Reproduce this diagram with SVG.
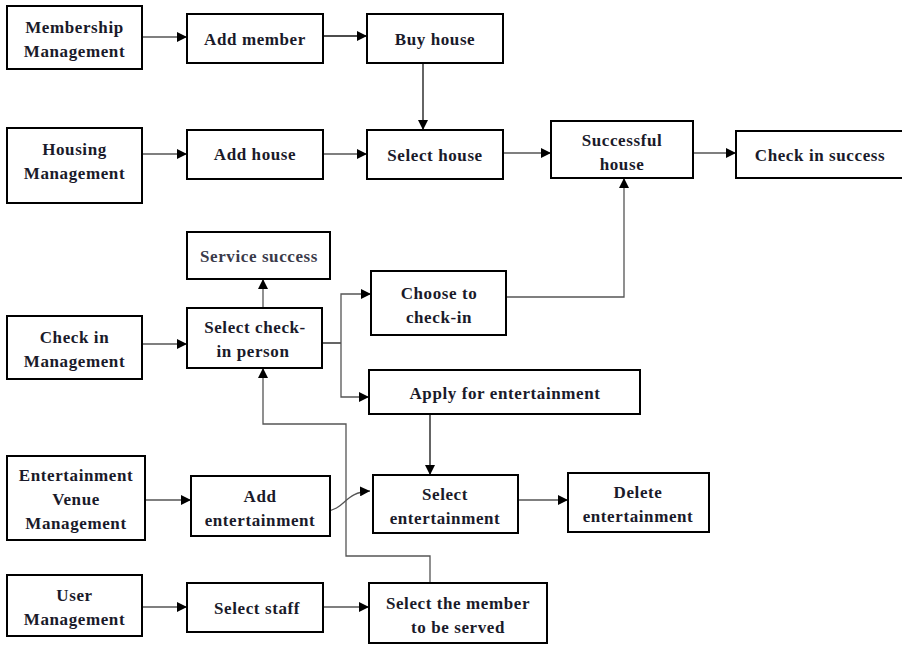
<svg xmlns="http://www.w3.org/2000/svg" width="902" height="645" viewBox="0 0 902 645">
<style>
.b{fill:#fff;stroke:#000;stroke-width:2}
.t{font-family:"Liberation Serif","Times New Roman",serif;font-weight:bold;font-size:17px;letter-spacing:0.6px;fill:#1a1a2a;text-anchor:middle}
.c{fill:none;stroke:#555;stroke-width:1.3}
.k{fill:none;stroke:#111;stroke-width:1.3}
</style>
<defs>
<marker id="a" viewBox="0 0 10 10" refX="10" refY="5" markerWidth="10" markerHeight="10" markerUnits="userSpaceOnUse" orient="auto">
<path d="M0,0 L10,5 L0,10 z" fill="#000"/>
</marker>
</defs>
<rect width="902" height="645" fill="#fff"/>
<g id="connectors">
<path class="c" d="M142,37 H187" marker-end="url(#a)"/>
<path class="k" d="M323,36 H367" marker-end="url(#a)"/>
<path class="k" d="M423,63 V130" marker-end="url(#a)"/>
<path class="c" d="M142,154 H187" marker-end="url(#a)"/>
<path class="c" d="M323,154 H367" marker-end="url(#a)"/>
<path class="c" d="M503,153 H551" marker-end="url(#a)"/>
<path class="c" d="M693,153 H736" marker-end="url(#a)"/>
<path class="c" d="M142,344 H187" marker-end="url(#a)"/>
<path class="c" d="M263,308 V279" marker-end="url(#a)"/>
<path class="k" d="M322,343 H341"/>
<path class="c" d="M341,343 V294 H371" marker-end="url(#a)"/>
<path class="c" d="M341,343 V397 H369" marker-end="url(#a)"/>
<path class="c" d="M506,297 H624 V178" marker-end="url(#a)"/>
<path class="k" d="M430,414 V475" marker-end="url(#a)"/>
<path class="c" d="M145,500 H191" marker-end="url(#a)"/>
<path class="c" d="M326,511 C345,510 344,492 370,491" marker-end="url(#a)"/>
<path class="c" d="M518,500 H568" marker-end="url(#a)"/>
<path class="c" d="M142,607 H187" marker-end="url(#a)"/>
<path class="c" d="M323,607 H369" marker-end="url(#a)"/>
<path class="c" d="M430,583 V556 H346 V424 H263 V368" marker-end="url(#a)"/>
</g>
<g id="membership"><rect class="b" x="7" y="6" width="135" height="63"/><text class="t" x="74.5" y="33">Membership</text><text class="t" x="74.5" y="57">Management</text></g>
<g id="addmember"><rect class="b" x="187" y="14" width="136" height="49"/><text class="t" x="255" y="45">Add member</text></g>
<g id="buyhouse"><rect class="b" x="367" y="14" width="136" height="49"/><text class="t" x="435" y="45">Buy house</text></g>
<g id="housing"><rect class="b" x="7" y="128" width="135" height="75"/><text class="t" x="74.5" y="155">Housing</text><text class="t" x="74.5" y="179">Management</text></g>
<g id="addhouse"><rect class="b" x="187" y="130" width="136" height="49"/><text class="t" x="255" y="160">Add house</text></g>
<g id="selecthouse"><rect class="b" x="367" y="130" width="136" height="49"/><text class="t" x="435" y="161">Select house</text></g>
<g id="successfulhouse"><rect class="b" x="551" y="121" width="142" height="57"/><text class="t" x="622" y="146">Successful</text><text class="t" x="622" y="170">house</text></g>
<g id="checkinsuccess"><rect class="b" x="736" y="131" width="170" height="47"/><text class="t" x="820" y="161">Check in success</text></g>
<g id="servicesuccess"><rect class="b" x="187" y="232" width="143" height="47"/><text class="t" x="259" y="262" style="fill:#3a3a4a">Service success</text></g>
<g id="checkinmgmt"><rect class="b" x="7" y="316" width="135" height="63"/><text class="t" x="74.5" y="343">Check in</text><text class="t" x="74.5" y="367">Management</text></g>
<g id="selectcheckin"><rect class="b" x="187" y="308" width="135" height="60"/><text class="t" x="255" y="333">Select check-</text><text class="t" x="253" y="357">in person</text></g>
<g id="choosecheckin"><rect class="b" x="371" y="271" width="135" height="64"/><text class="t" x="439" y="299">Choose to</text><text class="t" x="439" y="323">check-in</text></g>
<g id="applyent"><rect class="b" x="369" y="370" width="271" height="44"/><text class="t" x="505" y="399">Apply for entertainment</text></g>
<g id="entvenue"><rect class="b" x="7" y="456" width="138" height="84"/><text class="t" x="76" y="481">Entertainment</text><text class="t" x="76" y="505">Venue</text><text class="t" x="76" y="529">Management</text></g>
<g id="addent"><rect class="b" x="191" y="476" width="139" height="60"/><text class="t" x="260" y="502">Add</text><text class="t" x="260" y="526">entertainment</text></g>
<g id="selectent"><rect class="b" x="373" y="475" width="145" height="58"/><text class="t" x="445" y="500">Select</text><text class="t" x="445" y="524">entertainment</text></g>
<g id="deleteent"><rect class="b" x="568" y="473" width="141" height="59"/><text class="t" x="638" y="498">Delete</text><text class="t" x="638" y="522">entertainment</text></g>
<g id="usermgmt"><rect class="b" x="7" y="575" width="135" height="61"/><text class="t" x="74.5" y="601">User</text><text class="t" x="74.5" y="625">Management</text></g>
<g id="selectstaff"><rect class="b" x="187" y="583" width="136" height="49"/><text class="t" x="257" y="614">Select staff</text></g>
<g id="selectmember"><rect class="b" x="369" y="583" width="178" height="60"/><text class="t" x="458" y="609">Select the member</text><text class="t" x="458" y="633">to be served</text></g>
</svg>
